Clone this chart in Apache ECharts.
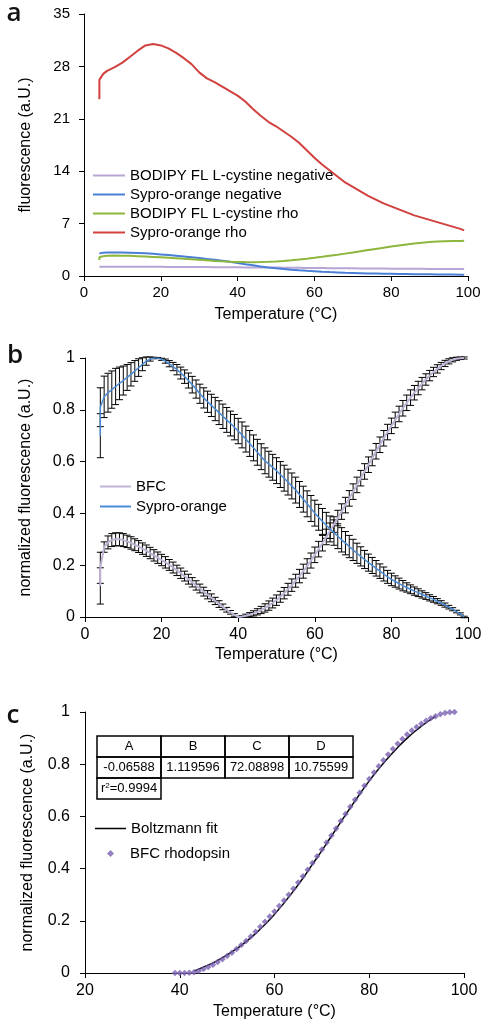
<!DOCTYPE html>
<html><head><meta charset="utf-8">
<script src="https://cdn.jsdelivr.net/npm/echarts@6/dist/echarts.min.js"></script>
<style>html,body{margin:0;padding:0;background:#fff}#c{width:491px;height:1030px}</style>
</head><body><div id="c"></div>
<script>
// ---------- Panel a ----------
const tempA = [4,4,5,6,8,10,12,14,16,18,20,22,24,26,28,30,32,34,36,38,40,42,44,46,48,50,52,54,56,58,60,62,64,66,68,70,72,74,76,78,80,82,84,86,88,90,92,94,96,98,99];
const bodipyNegA = [1.25,1.25,1.25,1.25,1.25,1.24,1.24,1.23,1.23,1.22,1.22,1.21,1.21,1.2,1.2,1.19,1.19,1.18,1.17,1.17,1.16,1.15,1.15,1.14,1.13,1.12,1.11,1.1,1.09,1.08,1.07,1.06,1.05,1.04,1.03,1.02,1.01,1.0,0.99,0.99,0.98,0.97,0.97,0.96,0.96,0.95,0.95,0.94,0.94,0.93,0.93];
const syproNegA = [3.0,3.1,3.12,3.13,3.14,3.14,3.12,3.08,3.03,2.96,2.88,2.8,2.71,2.62,2.52,2.4,2.28,2.16,2.03,1.9,1.74,1.58,1.43,1.28,1.15,1.03,0.93,0.84,0.76,0.69,0.63,0.57,0.52,0.48,0.44,0.41,0.38,0.35,0.33,0.31,0.29,0.27,0.26,0.24,0.23,0.22,0.21,0.2,0.19,0.18,0.18];
const bodipyRhoA = [2.14,2.5,2.65,2.7,2.73,2.72,2.69,2.65,2.6,2.55,2.49,2.43,2.37,2.3,2.23,2.16,2.09,2.02,1.96,1.91,1.88,1.86,1.85,1.86,1.9,1.95,2.02,2.1,2.2,2.31,2.43,2.56,2.7,2.84,2.99,3.14,3.3,3.46,3.62,3.78,3.93,4.08,4.21,4.33,4.44,4.53,4.6,4.65,4.68,4.69,4.7];
const syproRhoA = [23.6,26.2,27.0,27.4,27.9,28.5,29.3,30.1,30.8,31.0,30.8,30.4,29.8,29.1,28.3,27.2,26.4,25.9,25.3,24.7,24.1,23.3,22.3,21.4,20.6,20.0,19.3,18.6,17.8,16.8,15.8,14.9,14.1,13.3,12.5,11.9,11.3,10.7,10.2,9.7,9.3,8.9,8.5,8.1,7.8,7.5,7.2,6.9,6.6,6.3,6.1];
const namesA = ['BODIPY FL L-cystine negative','Sypro-orange negative','BODIPY FL L-cystine rho','Sypro-orange rho'];

// ---------- Panel b ----------
const tempB = [4,4,5,6,7,8,9,10,11,12,13,14,15,16,17,18,19,20,21,22,23,24,25,26,27,28,29,30,31,32,33,34,35,36,37,38,39,40,41,42,43,44,45,46,47,48,49,50,51,52,53,54,55,56,57,58,59,60,61,62,63,64,65,66,67,68,69,70,71,72,73,74,75,76,77,78,79,80,81,82,83,84,85,86,87,88,89,90,91,92,93,94,95,96,97,98,99];
const syproB = [0.70,0.81,0.85,0.866,0.878,0.89,0.902,0.913,0.925,0.937,0.95,0.963,0.976,0.988,0.996,1.0,1.0,0.995,0.988,0.978,0.967,0.955,0.942,0.928,0.913,0.897,0.88,0.862,0.846,0.831,0.817,0.803,0.789,0.775,0.761,0.747,0.733,0.718,0.703,0.687,0.67,0.653,0.636,0.619,0.603,0.59,0.578,0.565,0.55,0.536,0.521,0.506,0.49,0.473,0.455,0.437,0.419,0.401,0.385,0.369,0.354,0.34,0.326,0.312,0.298,0.285,0.272,0.259,0.246,0.234,0.222,0.21,0.199,0.188,0.177,0.166,0.155,0.145,0.137,0.129,0.121,0.114,0.107,0.1,0.094,0.087,0.081,0.074,0.068,0.061,0.054,0.046,0.038,0.03,0.021,0.012,0.0];
const syproErrB = [0.085,0.075,0.08,0.075,0.072,0.07,0.063,0.056,0.05,0.045,0.04,0.034,0.025,0.016,0.008,0.003,0.002,0.004,0.008,0.012,0.016,0.02,0.023,0.026,0.029,0.032,0.035,0.037,0.039,0.041,0.043,0.045,0.046,0.047,0.048,0.048,0.049,0.049,0.05,0.05,0.05,0.05,0.05,0.05,0.05,0.05,0.05,0.05,0.05,0.05,0.05,0.05,0.05,0.05,0.05,0.05,0.05,0.05,0.05,0.05,0.05,0.05,0.049,0.048,0.047,0.045,0.043,0.041,0.039,0.037,0.035,0.033,0.031,0.03,0.028,0.027,0.025,0.024,0.022,0.021,0.02,0.018,0.017,0.016,0.015,0.014,0.013,0.012,0.011,0.01,0.009,0.008,0.007,0.006,0.005,0.004,0.003];
const bfcB = [0.12,0.19,0.27,0.288,0.297,0.30,0.30,0.297,0.292,0.286,0.279,0.272,0.264,0.256,0.247,0.238,0.229,0.22,0.211,0.201,0.191,0.18,0.169,0.158,0.146,0.134,0.122,0.11,0.098,0.086,0.074,0.062,0.05,0.039,0.028,0.018,0.008,0.0,0.002,0.005,0.009,0.014,0.02,0.027,0.035,0.044,0.054,0.065,0.078,0.092,0.107,0.123,0.14,0.158,0.177,0.197,0.218,0.24,0.262,0.285,0.309,0.333,0.357,0.382,0.407,0.432,0.458,0.484,0.51,0.536,0.562,0.588,0.614,0.64,0.665,0.69,0.714,0.738,0.761,0.784,0.806,0.827,0.847,0.866,0.884,0.901,0.917,0.932,0.946,0.958,0.969,0.979,0.987,0.993,0.997,0.999,1.0];
const bfcErrB = [0.07,0.06,0.02,0.025,0.025,0.025,0.025,0.025,0.024,0.024,0.023,0.023,0.022,0.022,0.022,0.022,0.022,0.022,0.022,0.021,0.021,0.02,0.02,0.019,0.019,0.018,0.018,0.017,0.017,0.016,0.015,0.014,0.013,0.011,0.009,0.007,0.005,0.002,0.004,0.006,0.008,0.01,0.012,0.014,0.016,0.018,0.019,0.02,0.021,0.022,0.023,0.024,0.025,0.026,0.027,0.028,0.029,0.03,0.03,0.03,0.03,0.03,0.03,0.03,0.03,0.03,0.03,0.03,0.03,0.03,0.03,0.03,0.03,0.03,0.03,0.03,0.03,0.03,0.03,0.03,0.03,0.03,0.03,0.028,0.026,0.024,0.022,0.02,0.018,0.016,0.014,0.012,0.01,0.008,0.006,0.005,0.004];
const namesB = ['BFC','Sypro-orange'];

// ---------- Panel c ----------
const tempC = [39,40,41,42,43,44,45,46,47,48,49,50,51,52,53,54,55,56,57,58,59,60,61,62,63,64,65,66,67,68,69,70,71,72,73,74,75,76,77,78,79,80,81,82,83,84,85,86,87,88,89,90,91,92,93,94,95,96,97,98];
const bfcRhoC = [0.0,0.0,0.0,0.001,0.003,0.008,0.015,0.023,0.032,0.042,0.053,0.065,0.078,0.092,0.107,0.123,0.14,0.158,0.177,0.196,0.216,0.236,0.257,0.278,0.3,0.323,0.347,0.371,0.396,0.421,0.447,0.473,0.5,0.527,0.554,0.582,0.609,0.637,0.664,0.691,0.717,0.743,0.768,0.792,0.815,0.837,0.858,0.878,0.897,0.914,0.929,0.943,0.955,0.966,0.976,0.984,0.991,0.996,0.999,1.0];
const fitT = [43,44,46,48,50,52,54,56,58,60,62,64,66,68,70,72,74,76,78,80,82,84,86,88,90,92,94];
const fitV = [0.008,0.015,0.030,0.048,0.069,0.093,0.120,0.151,0.186,0.225,0.268,0.314,0.363,0.416,0.469,0.524,0.579,0.633,0.686,0.736,0.782,0.825,0.864,0.900,0.931,0.959,0.983];
const namesC = ['Boltzmann fit','BFC rhodopsin'];
const tableHead = ['A','B','C','D'];
const tableVals = ['-0.06588','1.119596','72.08898','10.75599'];
const rSquared = '0.9994';

const FONT = 'Liberation Sans';
const pair = (xs, ys) => xs.map((x, i) => [x, ys[i]]);
const errData = (xs, ys, es) => xs.map((x, i) => [x, ys[i] - es[i], ys[i] + es[i]]);

function errRender(params, api) {
  const x = api.value(0), lo = api.value(1), hi = api.value(2);
  const p1 = api.coord([x, hi]), p2 = api.coord([x, lo]);
  const w = 3.5, st = {stroke: '#000', lineWidth: 1};
  return {type: 'group', children: [
    {type: 'line', shape: {x1: p1[0], y1: p1[1], x2: p2[0], y2: p2[1]}, style: st},
    {type: 'line', shape: {x1: p1[0] - w, y1: p1[1], x2: p1[0] + w, y2: p1[1]}, style: st},
    {type: 'line', shape: {x1: p2[0] - w, y1: p2[1], x2: p2[0] + w, y2: p2[1]}, style: st}
  ]};
}

function axis(opts) {
  return Object.assign({
    type: 'value',
    splitLine: {show: false},
    axisLine: {show: true, onZero: false, lineStyle: {color: '#000', width: 1}},
    axisTick: {show: true, inside: false, length: 5, lineStyle: {color: '#000', width: 1}},
    nameLocation: 'middle',
    nameTextStyle: {fontFamily: FONT, fontSize: 16, color: '#000'}
  }, opts);
}
const lbl = (size, margin, fam) => ({color: '#000', fontSize: size, fontFamily: fam || FONT, margin: margin});

const chart = echarts.init(document.getElementById('c'), null, {renderer: 'canvas'});

const colorsA = ['#b7a5d6', '#4a7fd6', '#8db63c', '#d0413f'];
const dataA = [bodipyNegA, syproNegA, bodipyRhoA, syproRhoA];

const series = [];
dataA.forEach((arr, k) => series.push({
  name: namesA[k], type: 'line', xAxisIndex: 0, yAxisIndex: 0,
  data: pair(tempA, arr), symbol: 'none', lineStyle: {color: colorsA[k], width: 2},
  itemStyle: {color: colorsA[k]}, animation: false, z: 3
}));
series.push({type: 'custom', xAxisIndex: 1, yAxisIndex: 1, renderItem: errRender, data: errData(tempB, syproB, syproErrB), animation: false, z: 2, silent: true});
series.push({type: 'custom', xAxisIndex: 1, yAxisIndex: 1, renderItem: errRender, data: errData(tempB, bfcB, bfcErrB), animation: false, z: 2, silent: true});
series.push({name: namesB[0], type: 'line', xAxisIndex: 1, yAxisIndex: 1, data: pair(tempB, bfcB), symbol: 'none', lineStyle: {color: '#bfb3d6', width: 2}, itemStyle: {color: '#bfb3d6'}, animation: false, z: 3});
series.push({name: namesB[1], type: 'line', xAxisIndex: 1, yAxisIndex: 1, data: pair(tempB, syproB), symbol: 'none', lineStyle: {color: '#4a8bd4', width: 1.5}, itemStyle: {color: '#4a8bd4'}, animation: false, z: 4});
series.push({name: namesC[0], type: 'line', xAxisIndex: 2, yAxisIndex: 2, data: pair(fitT, fitV), symbol: 'none', smooth: true, lineStyle: {color: '#000', width: 1.5}, itemStyle: {color: '#000'}, animation: false, z: 3});
series.push({name: namesC[1], type: 'scatter', xAxisIndex: 2, yAxisIndex: 2, data: pair(tempC, bfcRhoC), symbol: 'diamond', symbolSize: 6.5, itemStyle: {color: '#7a60b2'}, animation: false, z: 4});

// table graphic for panel c
const cellX = [97, 161, 225, 289, 353];
const rowY = [736, 757, 778, 799];
const g = [];
const bs = {stroke: '#000', lineWidth: 1.5, fill: 'none'};
for (let i = 0; i < 4; i++) {
  g.push({type: 'rect', shape: {x: cellX[i], y: rowY[0], width: cellX[i+1]-cellX[i], height: rowY[1]-rowY[0]}, style: bs});
  g.push({type: 'rect', shape: {x: cellX[i], y: rowY[1], width: cellX[i+1]-cellX[i], height: rowY[2]-rowY[1]}, style: bs});
  g.push({type: 'text', style: {text: tableHead[i], x: (cellX[i]+cellX[i+1])/2, y: (rowY[0]+rowY[1])/2, align: 'center', verticalAlign: 'middle', font: '13px "' + FONT + '"', fill: '#000'}});
  g.push({type: 'text', style: {text: tableVals[i], x: (cellX[i]+cellX[i+1])/2, y: (rowY[1]+rowY[2])/2, align: 'center', verticalAlign: 'middle', font: '13px "' + FONT + '"', fill: '#000'}});
}
g.push({type: 'rect', shape: {x: cellX[0], y: rowY[2], width: cellX[1]-cellX[0], height: rowY[3]-rowY[2]}, style: bs});
g.push({type: 'text', style: {text: '{a|r}{s|2}{a|=' + rSquared + '}', x: cellX[0] + 4, y: (rowY[2]+rowY[3])/2, align: 'left', verticalAlign: 'middle',
  rich: {a: {font: '13px "' + FONT + '"', fill: '#000'}, s: {font: '8px "' + FONT + '"', fill: '#000', verticalAlign: 'top', padding: [0,0,6,0]}}}});
// panel letters
[['a', 14, 27], ['b', 15, 369], ['c', 13, 729]].forEach(p => g.push({type: 'text', style: {text: p[0], x: p[1], y: p[2], align: 'center', verticalAlign: 'bottom', font: '600 26px "Open Sans"', fill: '#111'}}));

const legendBase = {orient: 'vertical', padding: 0, icon: 'rect', itemHeight: 2, symbolKeepAspect: false, selectedMode: false,
  textStyle: {fontFamily: FONT, fontSize: 15, color: '#000', lineHeight: 15}};

chart.setOption({
  backgroundColor: '#fff',
  animation: false,
  grid: [
    {left: 84, top: 14, width: 384, height: 262},
    {left: 85, top: 358, width: 383, height: 259},
    {left: 85, top: 712, width: 379, height: 261}
  ],
  xAxis: [
    axis({gridIndex: 0, min: 0, max: 100, interval: 20, name: 'Temperature (°C)', nameGap: 31, axisLabel: lbl(15, 9)}),
    axis({gridIndex: 1, min: 0, max: 100, interval: 20, name: 'Temperature (°C)', nameGap: 30, axisLabel: lbl(16, 10)}),
    axis({gridIndex: 2, min: 20, max: 100, interval: 20, name: 'Temperature (°C)', nameGap: 31, axisLabel: lbl(16, 10)})
  ],
  yAxis: [
    axis({gridIndex: 0, min: 0, max: 35, interval: 7, name: 'fluorescence (a.U.)', nameGap: 50, axisLabel: lbl(15, 14)}),
    axis({gridIndex: 1, min: 0, max: 1, interval: 0.2, name: 'normalized fluorescence (a.U.)', nameGap: 51, axisLabel: lbl(16, 10)}),
    axis({gridIndex: 2, min: 0, max: 1, interval: 0.2, name: 'normalized fluorescence (a.U.)', nameGap: 49, axisLabel: lbl(16, 15)})
  ],
  legend: [
    Object.assign({}, legendBase, {data: namesA, left: 93, top: 168, itemWidth: 32, itemGap: 4}),
    Object.assign({}, legendBase, {data: namesB, left: 100, top: 479, itemWidth: 31, itemGap: 5}),
    Object.assign({}, legendBase, {data: [namesC[0]], left: 95, top: 821, itemWidth: 31, itemHeight: 1.5}),
    Object.assign({}, legendBase, {data: [{name: namesC[1], icon: 'diamond'}], left: 107, top: 846, itemWidth: 7, itemHeight: 7,
      textStyle: {fontFamily: FONT, fontSize: 15, color: '#000', lineHeight: 15, padding: [0, 0, 0, 11]}})
  ],
  graphic: g,
  series: series
});
</script>
</body></html>
